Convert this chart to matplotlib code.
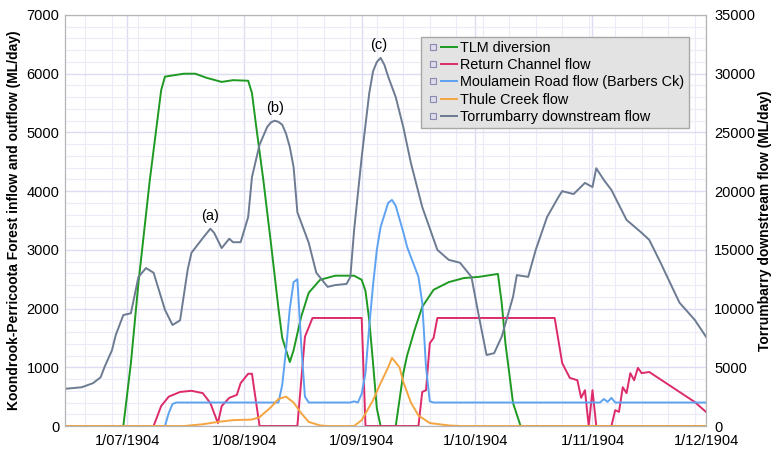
import numpy as np
import pandas as pd
import matplotlib
matplotlib.use("Agg")
from matplotlib import pyplot as plt
import matplotlib.dates as mdates
from matplotlib.lines import Line2D
from matplotlib.legend_handler import HandlerTuple
from matplotlib.ticker import MultipleLocator, FuncFormatter

plt.rcParams['font.family'] = ['Liberation Sans', 'DejaVu Sans']

start = pd.Timestamp('1904-07-01')

# day offsets from 1 July 1904, values in ML/day
tlm_days = [-17, -1, 1, 3, 6, 9, 10, 15, 18, 21, 25, 28, 32, 33, 34, 36, 38, 40, 41, 43, 44,
            46, 48, 51, 55, 60, 62, 63, 64, 65, 66, 67, 71, 73, 74, 76, 78, 81, 85, 89, 93,
            98, 99, 100, 101, 102, 104, 153]
tlm_vals = [0, 0, 1070, 2440, 4190, 5720, 5950, 6000, 6000, 5930, 5860, 5890, 5880, 5670,
            5160, 4190, 3120, 2000, 1500, 1090, 1290, 1860, 2270, 2490, 2560, 2560, 2490,
            2300, 1800, 1070, 300, 0, 0, 900, 1200, 1640, 2030, 2320, 2450, 2520, 2540,
            2590, 2100, 1400, 900, 390, 0, 0]

ret_days = [-17, 7, 9, 11, 14, 17, 20, 22, 24, 25, 27, 29, 30, 32, 33, 35, 45, 47, 49, 62,
            63, 77, 78, 79, 80, 81, 82, 113, 115, 117, 119, 120, 121, 122, 123, 124, 128,
            129, 130, 131, 132, 133, 134, 135, 136, 138, 142, 146, 150, 153]
ret_vals = [0, 0, 340, 500, 580, 600, 560, 390, 50, 340, 480, 530, 730, 890, 890, 0, 0,
            1520, 1840, 1840, 0, 0, 580, 610, 1410, 1500, 1840, 1840, 1070, 820, 780, 480,
            610, 0, 610, 0, 0, 270, 240, 660, 560, 900, 780, 990, 900, 920, 750, 580, 410,
            240]

moul_days = [-17, 10, 11, 12, 13, 40, 41, 42, 43, 44, 45, 46, 47, 48, 59, 60, 61, 62, 63,
             64, 65, 66, 67, 69, 70, 71, 73, 74, 75, 77, 78, 79, 80, 81, 125, 126, 127, 128,
             129, 153]
moul_vals = [0, 0, 220, 375, 400, 400, 700, 1300, 2000, 2450, 2500, 1400, 500, 400, 400,
             420, 400, 550, 900, 1700, 2400, 3000, 3390, 3800, 3850, 3750, 3300, 3050, 2880,
             2540, 2100, 1000, 420, 400, 400, 460, 410, 480, 400, 400]

thule_days = [-17, 15, 20, 24, 28, 33, 35, 38, 40, 42, 44, 46, 48, 51, 53, 60, 62, 65, 67,
              69, 70, 72, 73, 75, 77, 80, 85, 88, 153]
thule_vals = [0, 0, 30, 70, 100, 110, 150, 320, 460, 500, 400, 220, 70, 10, 0, 0, 100, 440,
              730, 1000, 1160, 1000, 750, 400, 180, 50, 10, 0, 0]

torr_days = [-17, -12, -9, -7, -6, -4, -3, -1, 1, 3, 5, 7, 10, 12, 14, 16, 17, 20, 22, 23,
             25, 27, 28, 30, 32, 33, 35, 37, 38, 39, 40, 41, 42, 43, 44, 45, 48, 50, 53, 55,
             58, 59, 60, 62, 64, 65, 66, 67, 68, 69, 71, 73, 75, 78, 82, 85, 88, 91, 93,
             95, 97, 99, 102, 103, 106, 108, 111, 114, 115, 118, 121, 123, 124, 126, 128,
             132, 136, 138, 141, 144, 146, 150, 153]
torr_vals = [3150, 3300, 3650, 4150, 5000, 6450, 7750, 9450, 9600, 12700, 13450, 13050,
             9900, 8600, 9000, 13300, 14750, 16000, 16800, 16450, 15150, 15950, 15650,
             15650, 17800, 21200, 23950, 25450, 25850, 26000, 25900, 25650, 24900, 23750,
             22050, 18200, 15600, 13050, 11850, 12000, 12100, 12700, 16700, 22900, 28350,
             30200, 31000, 31350, 30750, 29750, 28000, 25450, 22400, 18650, 15000, 14150,
             13900, 12700, 9300, 6050, 6200, 7600, 11000, 12850, 12700, 15000, 17800,
             19500, 20000, 19750, 20700, 20350, 21950, 20950, 20100, 17550, 16450, 15850,
             13900, 11850, 10500, 9050, 7600]

peak_labels = ['(a)', '(b)', '(c)']
peak_days = [22, 39, 66.5]
peak_torr = [16800, 26000, 31350]


def to_dates(days):
    return start + pd.to_timedelta(np.array(days, dtype=float), unit='D')


fig = plt.figure(figsize=(7.71, 4.5), dpi=100)
ax = fig.add_axes([0.0843, 0.0533, 0.8314, 0.9134])
ax2 = ax.twinx()

l1, = ax.plot(to_dates(tlm_days), tlm_vals, color='#1e9a22', lw=1.4)
l2, = ax.plot(to_dates(ret_days), ret_vals, color='#dc2a6a', lw=1.4)
l3, = ax.plot(to_dates(moul_days), moul_vals, color='#5da3f2', lw=1.4)
l4, = ax.plot(to_dates(thule_days), thule_vals, color='#f5a540', lw=1.4)
l5, = ax2.plot(to_dates(torr_days), torr_vals, color='#6c7b91', lw=1.4)

for lab, d, v in zip(peak_labels, peak_days, peak_torr):
    ax2.annotate(lab, (to_dates([d])[0], v), xytext=(0, 4), textcoords='offset points',
                 ha='center', va='bottom', fontsize=10.5)

ax.set_xlim(pd.Timestamp('1904-06-14 14:00'), pd.Timestamp('1904-12-01'))
ax.set_ylim(0, 7000)
ax2.set_ylim(0, 35000)

ax.xaxis.set_major_locator(mdates.MonthLocator(bymonthday=1))
ax.xaxis.set_minor_locator(mdates.WeekdayLocator(byweekday=mdates.MO))
ax.xaxis.set_major_formatter(FuncFormatter(
    lambda x, pos: (lambda d: f"{d.day}/{d.month:02d}/{d.year}")(mdates.num2date(x))))
ax.yaxis.set_major_locator(MultipleLocator(1000))
ax.yaxis.set_minor_locator(MultipleLocator(200))
ax2.yaxis.set_major_locator(MultipleLocator(5000))

ax.grid(which='major', color='#dcdcf2', lw=1.0)
ax.grid(which='minor', color='#ececf8', lw=0.8)
ax.set_axisbelow(True)

for a in (ax, ax2):
    a.tick_params(which='both', length=0, labelsize=10.5)
    for s in a.spines.values():
        s.set_color('#b4b4b4')
ax.tick_params(axis='x', pad=6)
ax.tick_params(axis='y', pad=4)
ax2.tick_params(axis='y', pad=6)

ax.set_ylabel('Koondrook-Perricoota Forest inflow and outflow (ML/day)',
              fontsize=10, fontweight='bold', labelpad=4)
ax2.set_ylabel('Torrumbarry downstream flow (ML/day)', fontsize=10, fontweight='bold',
               labelpad=2)

box = Line2D([], [], ls='none', marker='s', markersize=4.5, markerfacecolor='#dcdcec',
             markeredgecolor='#8a8ab0', markeredgewidth=0.8)
names = ['TLM diversion', 'Return Channel flow', 'Moulamein Road flow (Barbers Ck)',
         'Thule Creek flow', 'Torrumbarry downstream flow']
leg = ax2.legend([(box, l) for l in (l1, l2, l3, l4, l5)], names,
                 handler_map={tuple: HandlerTuple(ndivide=None, pad=0.05)},
                 loc='upper left', bbox_to_anchor=(0.555, 0.947), fontsize=10.4,
                 handlelength=2.2, handletextpad=0.25, labelspacing=0.22, borderpad=0.3,
                 borderaxespad=0, fancybox=False, framealpha=1, facecolor='#e3e3e3',
                 edgecolor='#a8a8a8')
leg.get_frame().set_linewidth(1.0)

fig.savefig('out.png', dpi=100)
